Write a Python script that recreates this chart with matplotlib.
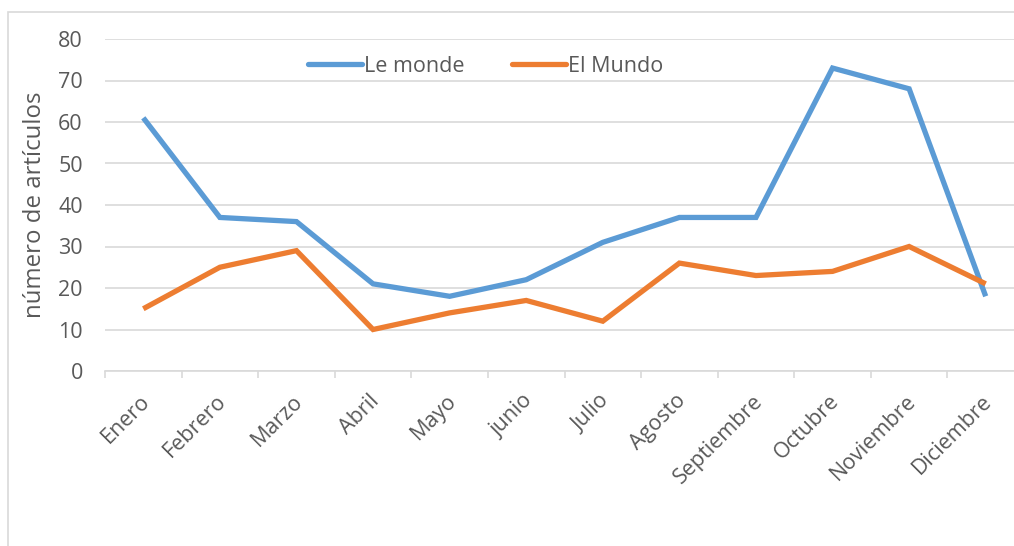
import matplotlib
matplotlib.use("Agg")
import matplotlib.pyplot as plt
import matplotlib.transforms as mtransforms
from matplotlib.patches import Rectangle

months = ['Enero', 'Febrero', 'Marzo', 'Abril', 'Mayo', 'junio', 'Julio',
          'Agosto', 'Septiembre', 'Octubre', 'Noviembre', 'Diciembre']
le_monde = [61, 37, 36, 21, 18, 22, 31, 37, 37, 73, 68, 18]
el_mundo = [15, 25, 29, 10, 14, 17, 12, 26, 23, 24, 30, 21]
y_ticks = [0, 10, 20, 30, 40, 50, 60, 70, 80]

BLUE = '#5B9BD5'
ORANGE = '#ED7D31'
GRID = '#D9D9D9'
TEXT = '#595959'

plt.rcParams['font.family'] = ['Open Sans', 'DejaVu Sans']

W, H = 1014, 546
fig = plt.figure(figsize=(W / 100, H / 100), dpi=100)

# chart border (extends past the right/bottom edge like the screenshot)
fig.patches.append(Rectangle((8 / W, -0.1), 1.2, 1 - 12 / H + 0.1,
                             transform=fig.transFigure, fill=False,
                             edgecolor=GRID, linewidth=1.2))

left, right, top, bottom = 105, 1024, 39, 371
ax = fig.add_axes([left / W, 1 - bottom / H, (right - left) / W, (bottom - top) / H])

x = list(range(len(months)))
ax.plot(x, le_monde, color=BLUE, linewidth=3.8, label='Le monde',
        solid_joinstyle='miter', solid_capstyle='butt', zorder=3)
ax.plot(x, el_mundo, color=ORANGE, linewidth=3.8, label='El Mundo',
        solid_joinstyle='miter', solid_capstyle='butt', zorder=3)

ax.set_xlim(-0.5, len(months) - 0.5)
ax.set_ylim(0, 80)
ax.set_yticks(y_ticks)
ax.grid(axis='y', color=GRID, linewidth=1.2)
ax.set_axisbelow(True)

for s in ['top', 'right', 'left']:
    ax.spines[s].set_visible(False)
ax.spines['bottom'].set_color(GRID)
ax.spines['bottom'].set_linewidth(1.2)

# category boundaries get the tick marks, labels sit at the centres
ax.set_xticks([i - 0.5 for i in range(len(months) + 1)], minor=False)
ax.set_xticklabels([])
ax.tick_params(axis='x', which='major', length=5, color=GRID, width=1.2)
ax.set_xticks(x, minor=True)
ax.set_xticklabels(months, minor=True, rotation=45, ha='right',
                   rotation_mode='anchor', color=TEXT, fontsize=15.5)
ax.tick_params(axis='x', which='minor', length=0, pad=14)
shift = mtransforms.ScaledTranslation(-4 / 100, 0, fig.dpi_scale_trans)
for lbl in ax.get_xticklabels(minor=True):
    lbl.set_transform(lbl.get_transform() + shift)
ax.tick_params(axis='y', length=0, labelsize=15.5, labelcolor=TEXT, pad=16)

ax.set_ylabel('número de artículos', fontsize=17.3, color=TEXT, labelpad=8)

leg = fig.legend(loc='center', bbox_to_anchor=(486 / W, 1 - 66 / H), ncol=2,
                 frameon=False, fontsize=15.5, handlelength=2.5, handletextpad=0.1,
                 columnspacing=2.2)
for t in leg.get_texts():
    t.set_color(TEXT)
for line in leg.get_lines():
    line.set_solid_capstyle('round')

fig.savefig('out.png', dpi=100)
